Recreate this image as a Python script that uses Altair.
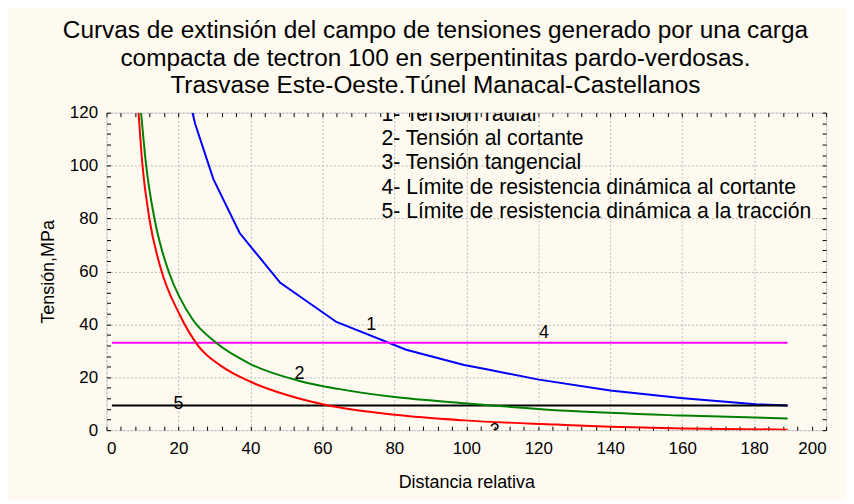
import altair as alt
import pandas as pd

# ---- data ----
radial_x = [23.9, 24.6, 29.7, 37.0, 48.3, 63.9, 83.3, 99.4, 106.0, 120.2, 140.0, 160.3, 180.5, 189.3]
radial_y = [120.0, 115.9, 94.9, 74.5, 55.7, 40.9, 30.4, 24.6, 22.9, 19.1, 15.0, 12.1, 9.8, 9.3]

cortante_x = [9.6, 11.0, 13.3, 15.5, 17.4, 23.9, 30.3, 40.0, 53.4, 64.4, 80.1, 99.4, 128.0, 160.3, 189.3]
cortante_y = [120.0, 100.2, 80.1, 67.5, 59.5, 41.9, 33.2, 25.0, 18.7, 15.6, 12.5, 10.2, 7.3, 5.5, 4.4]

tang_x = [8.9, 10.0, 11.9, 15.1, 20.2, 25.7, 31.7, 40.0, 50.6, 60.7, 80.1, 99.4, 125.2, 140.0, 160.3, 189.3]
tang_y = [120.0, 100.0, 80.0, 61.0, 44.0, 31.5, 24.4, 18.3, 13.1, 9.6, 5.8, 3.7, 2.1, 1.3, 0.6, 0.2]

lim_x = [1.5, 189.3]
lim_cortante_y = [33.0, 33.0]
lim_traccion_y = [9.3, 9.3]

series_names = ["1", "2", "3", "4", "5"]
series_colors = ["#0000FF", "#008000", "#FF0000", "#FF00FF", "#000000"]

num_labels = ["1", "2", "3", "4", "5"]
num_x = [73.6, 53.6, 107.9, 121.6, 20.0]
num_y = [39.8, 21.2, -0.3, 36.7, 10.0]

legend_lines = [
    "1- Tensión radial",
    "2- Tensión  al cortante",
    "3- Tensión tangencial",
    "4- Límite de resistencia dinámica al cortante",
    "5- Límite de resistencia dinámica a la tracción",
]
legend_x = [76.4, 76.4, 76.4, 76.4, 76.4]
legend_y = [119.0, 109.9, 100.9, 91.5, 82.5]

major_x_ticks = list(range(0, 201, 20))
major_y_ticks = list(range(0, 121, 20))
minor_x_ticks = list(range(0, 201, 4))
minor_y_ticks = list(range(0, 121, 4))

title_lines = [
    "Curvas de extinsión del campo de tensiones generado por una carga",
    "compacta de tectron 100 en serpentinitas pardo-verdosas.",
    "Trasvase Este-Oeste.Túnel Manacal-Castellanos",
]

# ---- tables ----
def table(pairs):
    rows = []
    for name, xs, ys in pairs:
        for i, (a, b) in enumerate(zip(xs, ys)):
            rows.append({"serie": name, "x": a, "y": b, "i": i})
    return pd.DataFrame(rows)


df_poly = table([
    ("1", radial_x, radial_y),
    ("4", lim_x, lim_cortante_y),
    ("5", lim_x, lim_traccion_y),
])
df_smooth = table([
    ("2", cortante_x, cortante_y),
    ("3", tang_x, tang_y),
])
df_all = pd.concat([df_poly, df_smooth], ignore_index=True)

df_num = pd.DataFrame({"t": num_labels, "x": num_x, "y": num_y})
df_leg = pd.DataFrame({"t": legend_lines, "x": legend_x, "y": legend_y})

FONT = "Liberation Sans"
W, H = 723, 319

xscale = alt.Scale(domain=[0, 200], nice=False, zero=False)
yscale = alt.Scale(domain=[0, 120], nice=False, zero=False)

main_x_axis = alt.Axis(values=major_x_ticks, ticks=False, tickSize=0, domain=False, grid=True,
                       gridDash=[2, 2], gridColor="#BBBBBB", labelFontSize=17, labelPadding=10,
                       labelColor="black", title="Distancia relativa", titleFontSize=18,
                       titleFontWeight="normal", titleColor="black", titlePadding=18, orient="bottom")
main_y_axis = alt.Axis(values=major_y_ticks, ticks=False, tickSize=0, domain=False, grid=True,
                       gridDash=[2, 2], gridColor="#BBBBBB", labelFontSize=17, labelPadding=9,
                       labelColor="black", title="Tensión,MPa", titleFontSize=18,
                       titleFontWeight="normal", titleColor="black", titlePadding=12, orient="left")

color = alt.Color("serie:N", scale=alt.Scale(domain=series_names, range=series_colors), legend=None)

lines_poly = alt.Chart(df_poly).mark_line(strokeWidth=2, clip=True).encode(
    x=alt.X("x:Q", scale=xscale, axis=main_x_axis),
    y=alt.Y("y:Q", scale=yscale, axis=main_y_axis),
    color=color,
    order="i:Q",
)
lines_smooth = alt.Chart(df_smooth).mark_line(strokeWidth=2, clip=True, interpolate="monotone").encode(
    x=alt.X("x:Q", scale=xscale, axis=None),
    y=alt.Y("y:Q", scale=yscale, axis=None),
    color=color,
    order="i:Q",
)


def tick_axis(orient, offset, values):
    return alt.Axis(orient=orient, offset=offset, values=values, labels=False, domain=False,
                    grid=False, ticks=True, tickSize=4, tickColor="black", tickWidth=1, title=None)


ticks_a = alt.Chart(df_all).mark_line(opacity=0).encode(
    x=alt.X("x:Q", scale=xscale, axis=tick_axis("top", -H, minor_x_ticks)),
    y=alt.Y("y:Q", scale=yscale, axis=tick_axis("right", -W, minor_y_ticks)),
    detail="serie:N",
)
ticks_b = alt.Chart(df_all).mark_line(opacity=0).encode(
    x=alt.X("x:Q", scale=xscale, axis=tick_axis("bottom", -H, minor_x_ticks)),
    y=alt.Y("y:Q", scale=yscale, axis=tick_axis("left", -W, minor_y_ticks)),
    detail="serie:N",
)

nums = alt.Chart(df_num).mark_text(fontSize=18, font=FONT, color="black", clip=True,
                                   align="center", baseline="middle").encode(
    x=alt.X("x:Q", scale=xscale, axis=None),
    y=alt.Y("y:Q", scale=yscale, axis=None),
    text="t:N",
)

legend_text = alt.Chart(df_leg).mark_text(fontSize=21.3, font=FONT, color="black", clip=True,
                                          align="left", baseline="middle").encode(
    x=alt.X("x:Q", scale=xscale, axis=None),
    y=alt.Y("y:Q", scale=yscale, axis=None),
    text="t:N",
)

chart = alt.layer(lines_poly, lines_smooth, ticks_a, ticks_b, nums, legend_text).resolve_axis(
    x="independent", y="independent"
).properties(
    width=W,
    height=H,
    autosize=alt.AutoSizeParams(type="none"),
    padding={"left": 99, "top": 104, "right": 20, "bottom": 69},
    background="#FEFAF0",
    title=alt.TitleParams(text=title_lines, fontSize=24.5, font=FONT, fontWeight="normal",
                          color="black", anchor="middle", dx=-31, offset=5, lineHeight=27.7),
).configure_view(
    fill="white", stroke="black", strokeWidth=2
).configure(font=FONT)

chart.save("out.html", embed_options={"renderer": "svg", "actions": False})
